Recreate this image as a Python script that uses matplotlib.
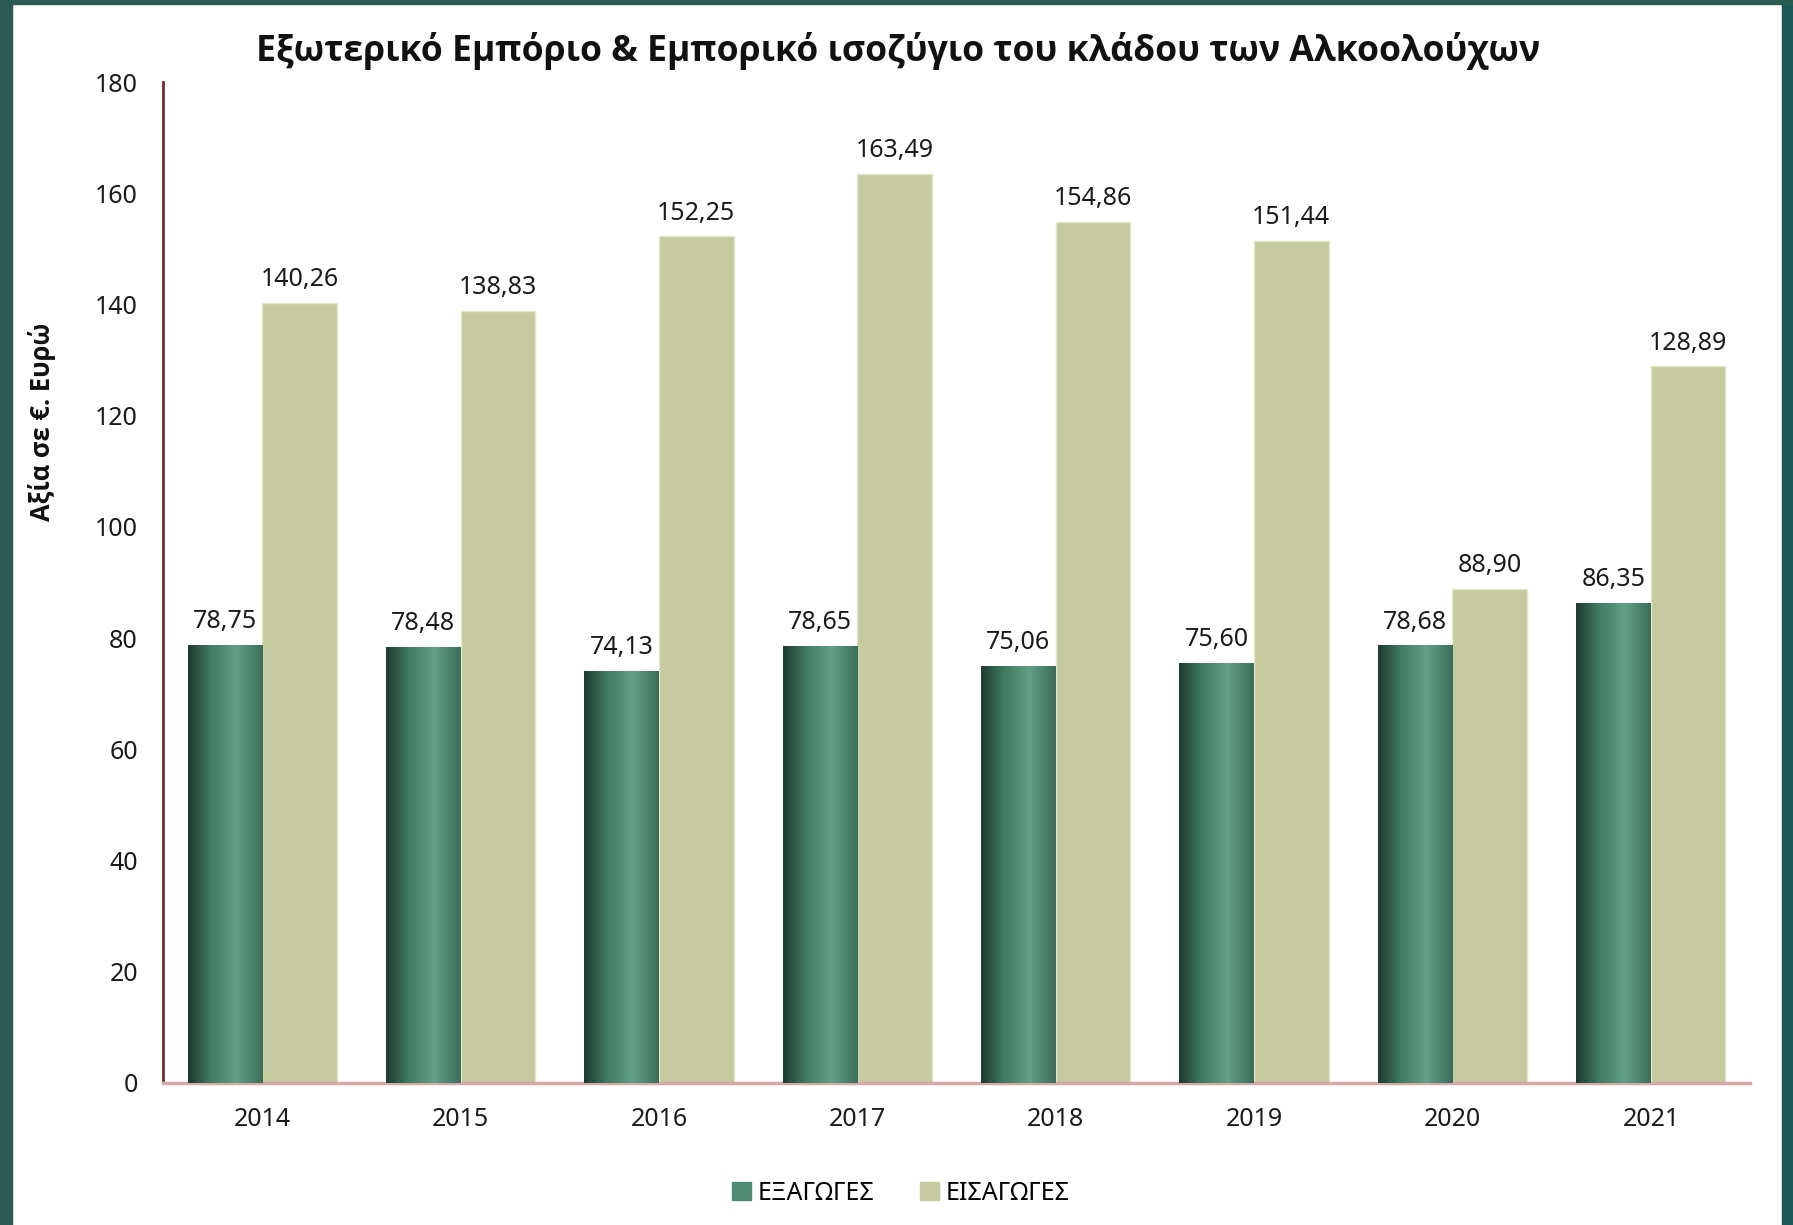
import matplotlib
matplotlib.use("Agg")
import matplotlib.pyplot as plt
import numpy as np
from matplotlib.colors import LinearSegmentedColormap
from matplotlib.patches import Rectangle

plt.rcParams["font.family"] = ["Noto Sans", "DejaVu Sans"]

years = ["2014", "2015", "2016", "2017", "2018", "2019", "2020", "2021"]
exports = [78.75, 78.48, 74.13, 78.65, 75.06, 75.60, 78.68, 86.35]
imports = [140.26, 138.83, 152.25, 163.49, 154.86, 151.44, 88.90, 128.89]
yticks = [0, 20, 40, 60, 80, 100, 120, 140, 160, 180]

title = "Εξωτερικό Εμπόριο & Εμπορικό ισοζύγιο του κλάδου των Αλκοολούχων"
ylabel = "Αξία σε €. Ευρώ"
names = ["ΕΞΑΓΩΓΕΣ", "ΕΙΣΑΓΩΓΕΣ"]

green = "#4f8a72"
beige = "#c5caa0"
bold_font = ["Open Sans", "Roboto", "DejaVu Sans"]

fig = plt.figure(figsize=(17.93, 12.25), dpi=100)
fig.patch.set_facecolor("white")

# teal frame around the picture
fig.patches.append(Rectangle((0, 0), 12 / 1793, 1, transform=fig.transFigure,
                             color="#2a5a52", zorder=0))
fig.patches.append(Rectangle((1782 / 1793, 0), 11 / 1793, 1, transform=fig.transFigure,
                             color="#1d5858", zorder=0))
fig.patches.append(Rectangle((0, 1 - 4 / 1225), 1, 4 / 1225, transform=fig.transFigure,
                             color="#2a5a52", zorder=0))

ax = fig.add_axes([163 / 1793, 1 - 1083 / 1225, (1750 - 163) / 1793, (1083 - 82) / 1225])

x = np.arange(len(years))
w = 0.376

grad = LinearSegmentedColormap.from_list(
    "bar", [(0, "#1e3a30"), (0.3, "#3f7a62"), (0.65, "#62a088"), (1, "#3b6d59")])
gimg = np.linspace(0, 1, 256).reshape(1, -1)

bars_e = ax.bar(x - w / 2, exports, w, color=green, zorder=2)
bars_i = ax.bar(x + w / 2, imports, w, color=beige, edgecolor="#e2e7c6",
                linewidth=1, zorder=2)

for b in bars_e:
    x0, y0 = b.get_x(), b.get_y()
    im = ax.imshow(gimg, cmap=grad, aspect="auto", zorder=3,
                   extent=[x0, x0 + b.get_width(), y0, y0 + b.get_height()])
    im.set_clip_path(b)

for bars, vals in [(bars_e, exports), (bars_i, imports)]:
    for b, v in zip(bars, vals):
        ax.annotate(f"{v:.2f}".replace(".", ","),
                    (b.get_x() + b.get_width() / 2, b.get_height()),
                    xytext=(0, 12), textcoords="offset points",
                    ha="center", va="baseline", fontsize=18, color="#1a1a1a")

ax.set_xlim(-0.5, len(years) - 0.5)
ax.set_ylim(0, 180)
ax.set_yticks(yticks)
ax.set_xticks(x)
ax.set_xticklabels(years)
ax.tick_params(axis="both", length=0, labelsize=18, colors="#1a1a1a")
ax.tick_params(axis="y", pad=18)
ax.tick_params(axis="x", pad=17)

for s in ["top", "right"]:
    ax.spines[s].set_visible(False)
ax.spines["left"].set_color("#7a2a2a")
ax.spines["left"].set_linewidth(2)
ax.spines["bottom"].set_color("#d6a8a8")
ax.spines["bottom"].set_linewidth(2.5)

fig.text(0.501, 1 - 51 / 1225, title, ha="center", va="center", family=bold_font,
         fontsize=25.6, fontweight="bold", color="#111111")
fig.text(42 / 1793, 1 - 422 / 1225, ylabel, ha="center", va="center", family=bold_font,
         rotation=90, fontsize=18.4, fontweight="bold", color="#111111")

handles = [Rectangle((0, 0), 1, 1, color=green), Rectangle((0, 0), 1, 1, color=beige)]
fig.legend(handles, names, loc="center", bbox_to_anchor=(0.5025, 1 - 1193 / 1225),
           ncol=2, frameon=False, fontsize=18, handlelength=0.75, handleheight=0.75,
           handletextpad=0.3, columnspacing=1.8)

fig.savefig("out.png", dpi=100, facecolor=fig.get_facecolor())
